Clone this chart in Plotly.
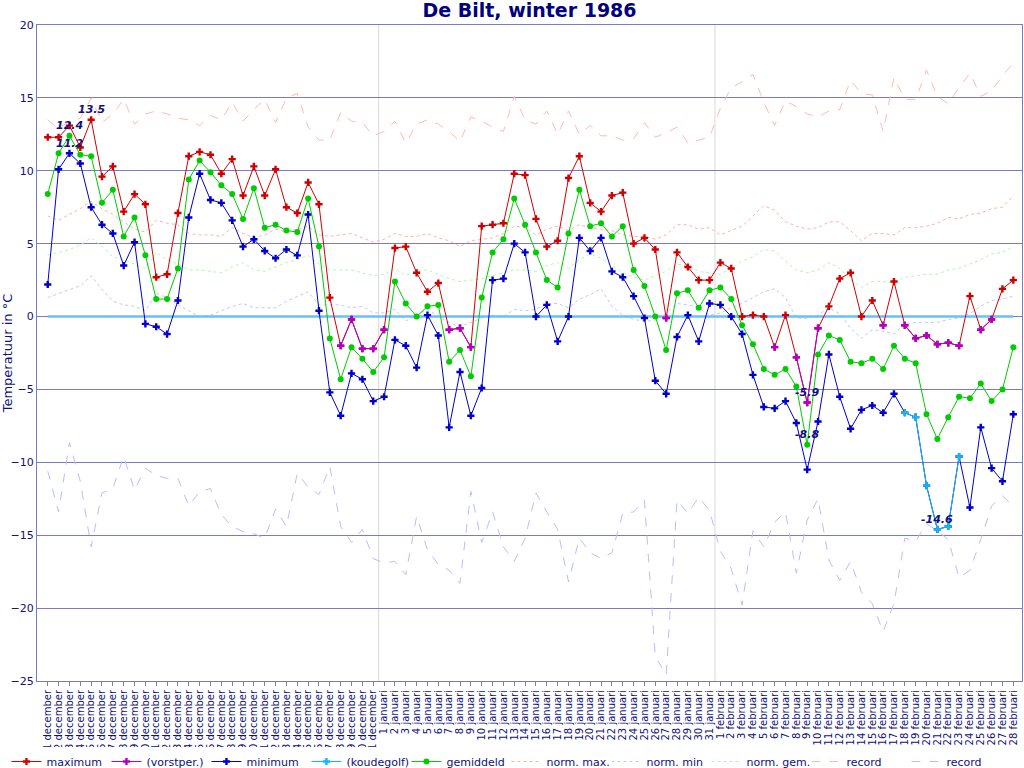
import plotly.graph_objects as go

# dagen: 1 december 1985 t/m 28 februari 1986
months = [("december", 31), ("januari", 31), ("februari", 28)]
days = [f"{d} {m}" for m, n in months for d in range(1, n + 1)]

maximum = [12.3, 12.3, 13.1, 11.6, 13.5, 9.6, 10.3, 7.2, 8.4, 7.7, 2.7, 2.9, 7.1, 11.0, 11.3, 11.1,
           9.8, 10.8, 8.3, 10.3, 8.3, 10.1, 7.5, 7.1, 9.2, 7.7, 1.3, -2.0, -0.2, -2.2, -2.2,
           -0.9, 4.7, 4.8, 3.0, 1.7, 2.3, -0.9, -0.8, -2.1, 6.2, 6.3, 6.4, 9.8, 9.7, 6.7, 4.8,
           5.2, 9.5, 11.0, 7.8, 7.2, 8.3, 8.5, 5.0, 5.4, 4.6, -0.1, 4.4, 3.4, 2.5, 2.5,
           3.7, 3.3, 0.0, 0.1, 0.0, -2.1, 0.1, -2.8, -5.9, -0.8, 0.7, 2.6, 3.0, 0.0, 1.1, -0.6,
           2.4, -0.6, -1.5, -1.3, -1.9, -1.8, -2.0, 1.4, -0.9, -0.2, 1.9, 2.5]

minimum = [2.2, 10.1, 11.2, 10.5, 7.5, 6.3, 5.7, 3.5, 5.1, -0.5, -0.7, -1.2, 1.1, 6.8, 9.8, 8.0,
           7.8, 6.6, 4.8, 5.3, 4.5, 4.0, 4.6, 4.2, 7.0, 0.4, -5.2, -6.8, -3.9, -4.3, -5.8,
           -5.5, -1.6, -2.0, -3.5, 0.1, -1.3, -7.6, -3.8, -6.8, -4.9, 2.5, 2.6, 5.0, 4.4, 0.0, 0.8,
           -1.7, 0.0, 5.4, 4.5, 5.4, 3.1, 2.7, 1.4, -0.1, -4.4, -5.3, -1.4, 0.1, -1.7, 0.9,
           0.8, 0.0, -1.2, -4.0, -6.2, -6.3, -5.8, -7.3, -10.5, -7.2, -2.6, -5.5, -7.7, -6.4, -6.1,
           -6.6, -5.3, -6.6, -6.9, -11.6, -14.6, -14.4, -9.6, -13.1, -7.6, -10.4, -11.3, -6.7]

gemiddeld = [8.4, 11.2, 12.4, 11.1, 11.0, 7.8, 8.7, 5.5, 6.8, 4.2, 1.2, 1.2, 3.3, 9.4, 10.7, 9.9,
             9.0, 8.4, 6.7, 8.8, 6.1, 6.3, 5.9, 5.8, 8.1, 4.8, -1.5, -4.3, -2.1, -2.9, -3.8,
             -2.8, 2.4, 0.9, 0.0, 0.7, 0.8, -3.1, -2.3, -4.1, 1.3, 4.4, 5.3, 8.1, 6.3, 4.4, 2.5,
             2.0, 5.7, 8.7, 6.2, 6.4, 5.5, 6.2, 3.2, 2.1, 0.0, -2.3, 1.6, 1.8, 0.6, 1.8,
             2.0, 1.2, -0.6, -1.9, -3.6, -4.0, -3.6, -4.8, -8.8, -2.6, -1.3, -1.6, -3.1, -3.2, -2.9,
             -3.6, -2.0, -2.9, -3.2, -6.7, -8.4, -6.9, -5.5, -5.6, -4.6, -5.8, -5.0, -2.1]

# dagen van de koudegolf
koudegolf_days = ["18 februari", "19 februari", "20 februari", "21 februari", "22 februari", "23 februari"]

norm_max = [6.9, 6.6, 7.0, 7.4, 7.9, 7.4, 7.0, 6.5, 6.0, 5.8, 6.6, 6.4, 6.3, 5.7, 5.6, 5.6,
            5.5, 6.1, 5.7, 5.4, 5.6, 6.0, 5.8, 6.0, 6.2, 5.6, 5.5, 5.6, 5.7, 5.4, 5.1,
            5.3, 5.7, 5.5, 5.5, 5.7, 5.4, 5.2, 4.8, 5.2, 5.3, 5.4, 5.7, 6.2, 6.1, 5.6, 6.0,
            6.2, 5.9, 6.3, 6.1, 6.0, 5.9, 5.6, 5.5, 5.5, 5.3, 5.6, 6.3, 6.3, 6.0, 6.1,
            5.6, 5.9, 6.2, 6.9, 7.6, 7.3, 6.5, 6.2, 6.0, 6.1, 6.5, 6.5, 5.9, 5.2, 5.7,
            5.7, 5.6, 6.1, 6.1, 6.2, 6.4, 6.8, 6.7, 7.0, 7.1, 7.4, 7.5, 8.3]

norm_min = [1.3, 1.6, 1.85, 2.1, 2.8, 1.85, 1.05, 0.8, 0.7, 0.4, 1.6, 1.3, 0.8, 0.4, 0.0, 0.1,
            0.4, 0.7, 0.9, 0.6, 0.6, 0.6, 1.05, 1.4, 1.7, 0.8, 0.8, 0.8, 0.6, 0.7, 0.25,
            0.25, 0.5, -0.3, 0.1, 0.5, 0.0, -0.4, -0.7, -0.4, -0.1, 0.1, 0.0, 0.5, 0.4, 0.5, 0.9,
            0.9, 0.6, 1.2, 1.5, 1.9, 0.7, 0.1, -0.2, -0.3, -0.3, 0.25, 0.9, 0.8, 0.6, 0.1,
            0.25, 0.6, 0.9, 1.3, 1.7, 1.9, 1.3, -0.1, -0.15, 0.1, 0.6, 0.2, -0.8, -1.5, -0.9,
            -1.0, -1.2, -0.5, -0.4, -0.4, -0.4, -0.2, -0.1, 0.2, 0.7, 1.1, 1.2, 1.4]

norm_gem = [4.2, 4.4, 4.6, 4.9, 5.4, 4.8, 4.1, 3.9, 3.6, 3.3, 4.4, 3.9, 3.6, 3.2, 3.2, 3.1,
            3.0, 3.4, 3.7, 3.2, 3.1, 3.4, 3.7, 3.9, 4.2, 3.6, 3.2, 3.2, 3.2, 3.0, 2.8,
            2.9, 3.3, 2.8, 3.1, 3.2, 2.9, 2.6, 2.4, 2.5, 2.6, 2.8, 3.0, 3.2, 3.2, 3.1, 3.5,
            3.7, 3.3, 3.9, 4.3, 4.0, 3.5, 3.0, 2.7, 2.5, 2.8, 3.1, 3.6, 3.5, 3.1, 3.0,
            2.9, 3.3, 3.8, 4.1, 4.6, 4.5, 3.8, 3.2, 3.0, 3.2, 3.7, 3.3, 2.5, 2.0, 2.4,
            2.4, 2.3, 2.7, 2.8, 2.9, 2.9, 3.2, 3.3, 3.6, 3.9, 4.3, 4.4, 4.8]

record_max = [13.5, 12.9, 13.4, 13.6, 15.0, 13.3, 13.9, 14.9, 13.2, 13.9, 14.1, 13.9, 13.6, 13.5, 13.1, 13.8,
              13.5, 14.7, 13.4, 14.2, 14.9, 13.3, 15.0, 15.3, 13.0, 12.1, 12.1, 14.0, 13.4, 13.3, 12.4,
              12.7, 13.4, 11.9, 13.2, 13.5, 13.2, 12.7, 12.0, 13.7, 13.4, 13.0, 12.7, 15.1, 13.5, 13.2, 14.1,
              12.5, 14.1, 12.5, 13.1, 12.4, 12.4, 12.1, 12.2, 13.3, 12.3, 12.6, 13.0, 11.9, 12.1, 12.3,
              14.3, 15.7, 16.1, 16.6, 14.7, 13.1, 14.8, 14.4, 13.9, 13.7, 14.1, 14.2, 16.2, 15.3, 15.2,
              12.7, 16.4, 14.9, 14.9, 16.9, 15.1, 14.6, 15.7, 16.7, 15.1, 15.5, 16.5, 17.4]

record_min = [-10.6, -13.4, -8.65, -11.3, -15.8, -12.1, -11.8, -9.6, -11.9, -10.4, -10.9, -11.1, -11.1, -13.0, -12.0, -11.8,
              -13.6, -14.4, -14.75, -14.9, -15.2, -13.2, -14.4, -10.75, -11.7, -12.2, -10.3, -14.4, -15.5, -14.6, -16.6,
              -16.9, -16.8, -17.7, -13.7, -16.0, -17.0, -17.4, -18.3, -12.0, -15.5, -13.4, -15.8, -16.8, -15.2, -12.1, -13.4,
              -14.6, -18.2, -15.2, -16.2, -16.6, -16.2, -13.5, -13.4, -12.6, -23.3, -24.6, -12.6, -13.5, -12.4, -13.3,
              -16.1, -17.3, -19.8, -14.7, -15.8, -14.1, -13.4, -17.6, -13.95, -12.5, -16.7, -18.1, -16.8, -18.9, -19.7,
              -21.6, -19.7, -15.2, -15.4, -14.2, -14.7, -15.3, -17.9, -17.4, -15.3, -13.0, -12.3, -13.0]

NAVY = "#10107a"
GRID = "#7b7bc4"
x = list(range(len(days)))

# vorstdagen: maximum onder nul
vorst = [v if v < 0 else None for v in maximum]
koude = [v if d in koudegolf_days else None for d, v in zip(days, minimum)]

fig = go.Figure()


def faint(y, name, color, dash):
    fig.add_trace(go.Scatter(x=x, y=y, name=name, mode="lines",
                             line=dict(color=color, width=1, dash=dash)))


faint(norm_max, "norm. max.", "#ffb0b0", "dot")
faint(norm_min, "norm. min", "#c4c4ff", "dot")
faint(norm_gem, "norm. gem.", "#b4f5b4", "dot")
faint(record_max, "record", "#ffb8b8", "dash")
faint(record_min, "record", "#bcbcff", "dash")

# nullijn
fig.add_trace(go.Scatter(x=[x[0], x[-1]], y=[0, 0], mode="lines", showlegend=False,
                         line=dict(color="#6cbcff", width=2.5), hoverinfo="skip"))

fig.add_trace(go.Scatter(x=x, y=maximum, name="maximum", mode="lines+markers",
                         line=dict(color="#d00000", width=1),
                         marker=dict(symbol="cross", size=6, color="#d00000")))
fig.add_trace(go.Scatter(x=x, y=vorst, name="(vorstper.)", mode="lines+markers",
                         line=dict(color="#b000c8", width=1),
                         marker=dict(symbol="cross", size=6, color="#b000c8")))
fig.add_trace(go.Scatter(x=x, y=minimum, name="minimum", mode="lines+markers",
                         line=dict(color="#0000c8", width=1),
                         marker=dict(symbol="cross", size=6, color="#0000c8")))
fig.add_trace(go.Scatter(x=x, y=koude, name="(koudegolf)", mode="lines+markers",
                         line=dict(color="#10b8f8", width=1),
                         marker=dict(symbol="cross", size=6, color="#10b8f8")))
fig.add_trace(go.Scatter(x=x, y=gemiddeld, name="gemiddeld", mode="lines+markers",
                         line=dict(color="#00cc00", width=1),
                         marker=dict(symbol="circle", size=6, color="#00cc00")))

# legendavolgorde zoals in het origineel
order = ["maximum", "(vorstper.)", "minimum", "(koudegolf)", "gemiddeld",
         "norm. max.", "norm. min", "norm. gem.", "record"]
for tr in fig.data:
    if tr.name in order:
        tr.legendrank = order.index(tr.name) * 10 + (1 if tr.line.color == "#bcbcff" else 0)

# extremen labelen
for series in (maximum, gemiddeld, minimum):
    for v in (max(series), min(series)):
        i = series.index(v)
        fig.add_annotation(x=i, y=v, text=f"<b><i>{v}</i></b>", showarrow=False, yshift=10,
                           font=dict(size=11, color=NAVY))

# maandgrenzen
for b in (30.5, 61.5):
    fig.add_shape(type="line", x0=b, x1=b, y0=0, y1=1, yref="paper",
                  line=dict(color="#d8d8d8", width=1), layer="below")

fig.update_layout(
    width=1024, height=768,
    margin=dict(l=37, r=2, t=25, b=87, autoexpand=False),
    paper_bgcolor="white", plot_bgcolor="white",
    font=dict(family="DejaVu Sans", color=NAVY, size=11),
    title=dict(text="<b>De Bilt, winter 1986</b>", x=0.5, xref="paper", y=0.986, yanchor="middle",
               font=dict(size=19, color="#000080")),
    showlegend=True,
    legend=dict(orientation="h", x=-0.031, xanchor="left", y=-0.1448, yanchor="bottom",
                entrywidth=55, entrywidthmode="pixels", itemwidth=30,
                font=dict(size=11, color=NAVY), tracegroupgap=0, traceorder="normal"),
)
fig.update_xaxes(range=[-0.99, 89.8], tickmode="array", tickvals=x, ticktext=days,
                 tickangle=-90, tickfont=dict(size=10, color=NAVY), ticks="outside",
                 ticklen=4, tickcolor=GRID, showgrid=False, zeroline=False,
                 showline=True, linecolor=GRID, mirror=True, automargin=False)
fig.update_yaxes(range=[-25, 20], dtick=5, tickfont=dict(size=11, color=NAVY),
                 showgrid=True, gridcolor=GRID, gridwidth=1, zeroline=False,
                 showline=True, linecolor=GRID, mirror=True, automargin=False,
                 title=dict(text="Temperatuur in °C", font=dict(size=13, color=NAVY), standoff=4))

# geen body-marge, zodat de figuur precies in het venster valt
fig.write_html("out.html", config={"displayModeBar": False},
               post_script="document.body.style.margin='0';")
